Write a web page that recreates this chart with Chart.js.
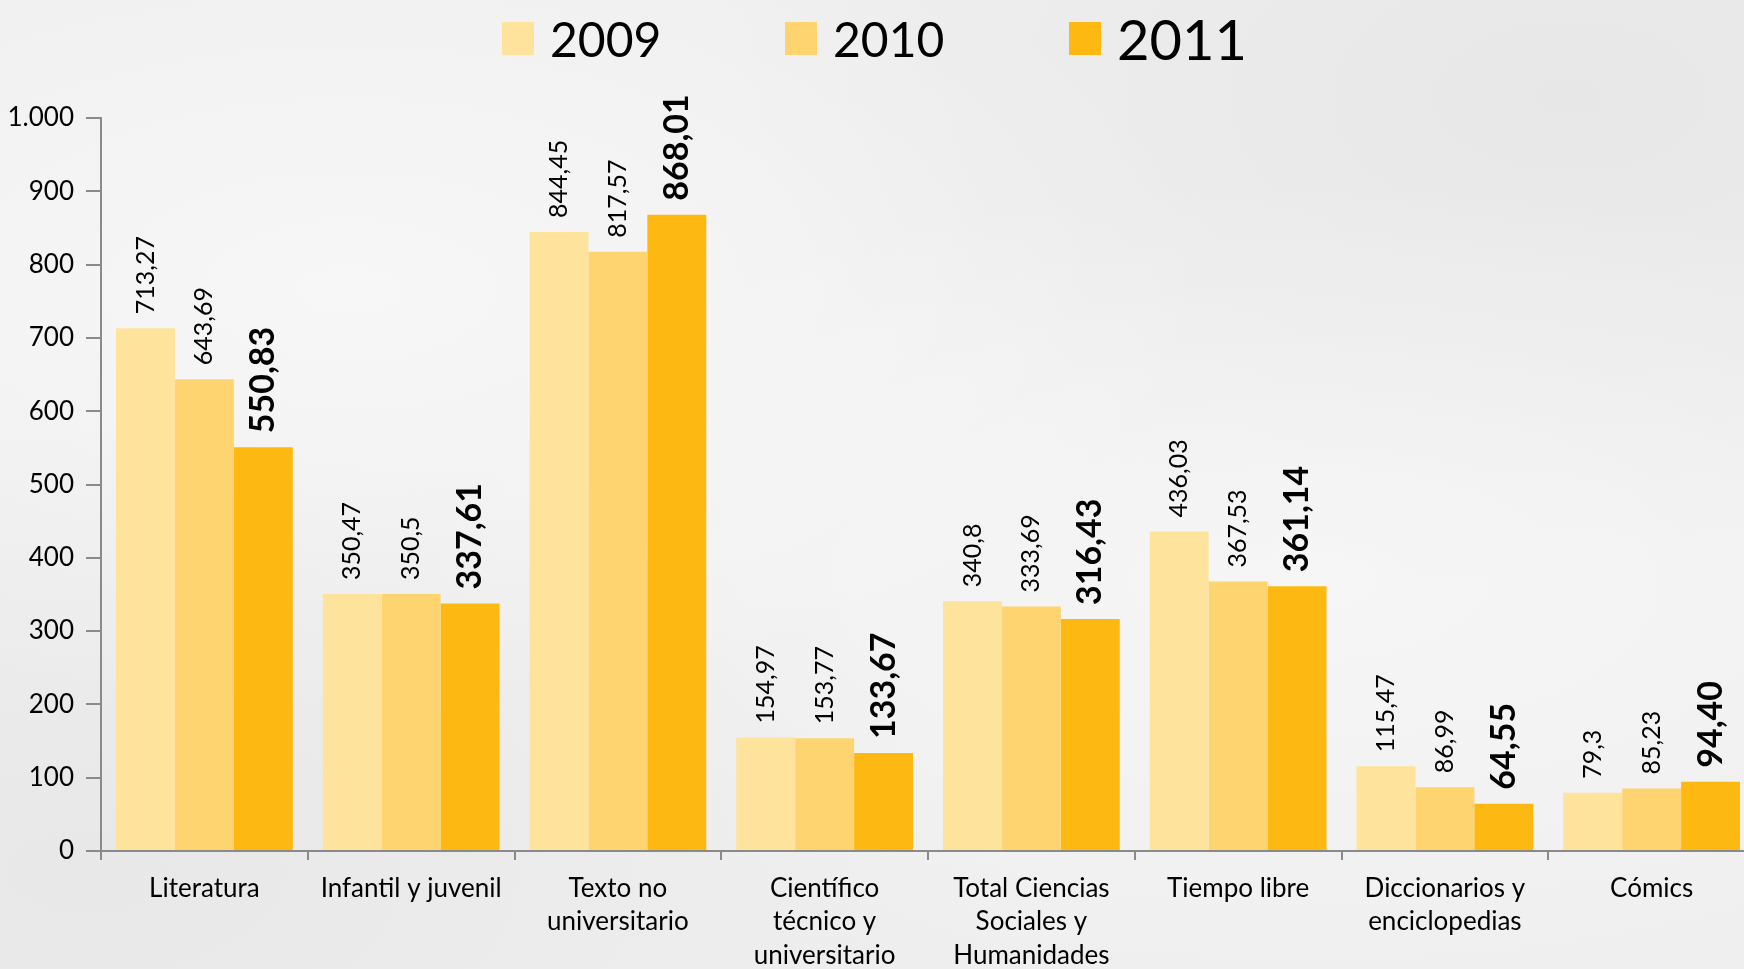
<!DOCTYPE html>
<html>
<head>
<meta charset="utf-8">
<script src="https://cdn.jsdelivr.net/npm/chart.js@4.4.0/dist/chart.umd.min.js"></script>
<style>
  html, body { margin: 0; padding: 0; width: 1744px; height: 969px; overflow: hidden; }
  body {
    background-color: #efefef;
    background-image:
      radial-gradient(ellipse at 20% 30%, rgba(255,255,255,0.5), rgba(255,255,255,0) 45%),
      radial-gradient(ellipse at 75% 60%, rgba(255,255,255,0.45), rgba(255,255,255,0) 50%),
      radial-gradient(ellipse at 90% 10%, rgba(220,220,220,0.4), rgba(220,220,220,0) 40%),
      radial-gradient(ellipse at 5% 90%, rgba(225,225,225,0.5), rgba(225,225,225,0) 40%);
    font-family: Lato, "Open Sans", sans-serif;
    position: relative;
  }
  #grafico { position: absolute; left: 0; top: 0; }
  .leyenda { position: absolute; top: 0; height: 76px; display: flex; align-items: center; color: #000; }
  .leyenda span.caja { display: inline-block; width: 32px; height: 33px; margin-right: 16px; }
</style>
</head>
<body>
<canvas id="grafico" width="1760" height="969"></canvas>
<div id="leyendas"></div>

<script>
// categorias y valores
var categorias = [
  'Literatura',
  'Infantil y juvenil',
  ['Texto no', 'universitario'],
  ['Científico', 'técnico y', 'universitario'],
  ['Total Ciencias', 'Sociales y', 'Humanidades'],
  'Tiempo libre',
  ['Diccionarios y', 'enciclopedias'],
  'Cómics'
];
var anios = ['2009', '2010', '2011'];
var datos2009 = [713.27, 350.47, 844.45, 154.97, 340.8, 436.03, 115.47, 79.3];
var datos2010 = [643.69, 350.5, 817.57, 153.77, 333.69, 367.53, 86.99, 85.23];
var datos2011 = [550.83, 337.61, 868.01, 133.67, 316.43, 361.14, 64.55, 94.40];
var colores = ['#fee39d', '#fdd46f', '#fdb812'];
var ticksY = [0, 100, 200, 300, 400, 500, 600, 700, 800, 900, 1000];

// leyenda html (tamaños distintos para cada año)
var posLeyenda = [502, 785, 1069];
var tamLeyenda = [48, 48, 56];
var contLeyenda = document.getElementById('leyendas');
anios.forEach(function (anio, i) {
  var div = document.createElement('div');
  div.className = 'leyenda';
  div.style.left = posLeyenda[i] + 'px';
  div.style.fontSize = tamLeyenda[i] + 'px';
  div.innerHTML = '<span class="caja" style="background:' + colores[i] + '"></span>' + anio;
  contLeyenda.appendChild(div);
});

// etiquetas de valor giradas encima de cada barra
var etiquetasValor = {
  id: 'etiquetasValor',
  afterDatasetsDraw: function (chart) {
    var ctx = chart.ctx;
    chart.data.datasets.forEach(function (ds, i) {
      var meta = chart.getDatasetMeta(i);
      var negrita = (i === 2);
      meta.data.forEach(function (barra, j) {
        var v = ds.data[j];
        var texto = negrita ? v.toFixed(2).replace('.', ',') : String(v).replace('.', ',');
        ctx.save();
        ctx.translate(barra.x, barra.y - 14);
        ctx.rotate(-Math.PI / 2);
        ctx.font = negrita ? 'bold 34px Lato' : '25px Lato';
        ctx.fillStyle = '#000';
        ctx.textAlign = 'left';
        ctx.textBaseline = 'middle';
        ctx.fillText(texto, 0, 0);
        ctx.restore();
      });
    });
  }
};

var config = {
  type: 'bar',
  data: {
    labels: categorias,
    datasets: [
      { label: anios[0], data: datos2009, backgroundColor: colores[0] },
      { label: anios[1], data: datos2010, backgroundColor: colores[1] },
      { label: anios[2], data: datos2011, backgroundColor: colores[2] }
    ]
  },
  options: {
    responsive: false,
    animation: false,
    devicePixelRatio: 1,
    layout: { padding: { top: 118, right: 5, left: 0, bottom: 0 } },
    datasets: { bar: { barPercentage: 1, categoryPercentage: 0.855 } },
    plugins: {
      legend: { display: false },
      tooltip: { enabled: false }
    },
    scales: {
      x: {
        grid: { offset: true, drawOnChartArea: false, color: '#8a8a8a', tickLength: 9, lineWidth: 2 },
        border: { color: '#8a8a8a', width: 2 },
        ticks: { color: '#000', font: { family: 'Lato', size: 26, lineHeight: 1.28 }, maxRotation: 0, autoSkip: false, padding: 12 },
        afterFit: function (scale) { scale.height = 118; }
      },
      y: {
        min: 0,
        max: 1000,
        afterBuildTicks: function (scale) {
          scale.ticks = ticksY.map(function (v) { return { value: v }; });
        },
        grid: { drawOnChartArea: false, color: '#8a8a8a', tickLength: 15, lineWidth: 2 },
        border: { color: '#8a8a8a', width: 2 },
        ticks: {
          color: '#000',
          font: { family: 'Lato', size: 26 },
          padding: 12,
          callback: function (v) { return v >= 1000 ? '1.000' : String(v); }
        },
        afterFit: function (scale) { scale.width = 101; }
      }
    }
  },
  plugins: [etiquetasValor]
};

var ctxGrafico = document.getElementById('grafico').getContext('2d');
new Chart(ctxGrafico, config);
</script>
</body>
</html>
